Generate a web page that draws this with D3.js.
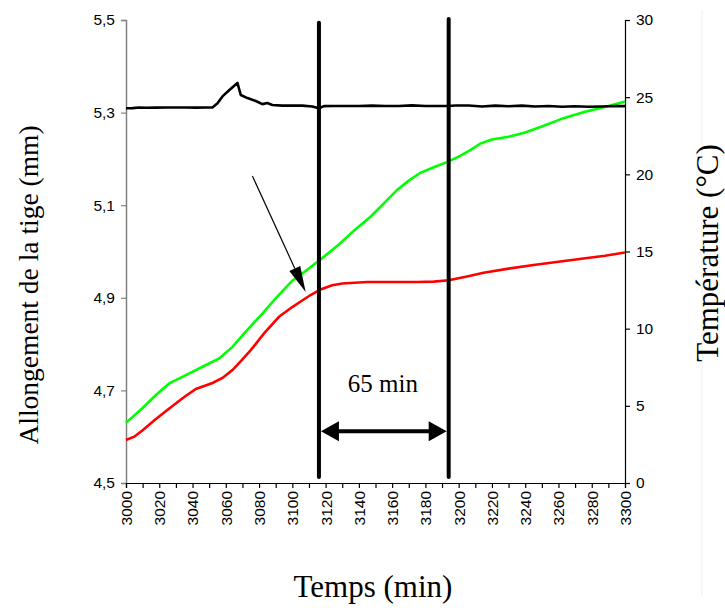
<!DOCTYPE html>
<html>
<head>
<meta charset="utf-8">
<script src="https://cdn.jsdelivr.net/npm/d3@7"></script>
<style>
  body { margin: 0; background: #fff; }
</style>
</head>
<body>
<svg id="chart"></svg>
<script>
// elongation, green curve (mm)
const greenTimes = [3000, 3005, 3010, 3018, 3026, 3036, 3046, 3056, 3064, 3072, 3082, 3090, 3100, 3108, 3117, 3128, 3137, 3147, 3155, 3163, 3170, 3177, 3185, 3193, 3200, 3207, 3213, 3220, 3230, 3240, 3250, 3263, 3276, 3289, 3300];
const greenValues = [4.630, 4.646, 4.662, 4.690, 4.715, 4.733, 4.751, 4.769, 4.794, 4.827, 4.866, 4.899, 4.937, 4.958, 4.983, 5.015, 5.045, 5.075, 5.104, 5.133, 5.153, 5.170, 5.182, 5.193, 5.205, 5.219, 5.233, 5.242, 5.248, 5.257, 5.270, 5.288, 5.302, 5.313, 5.324];

// elongation, red curve (mm)
const redTimes = [3000, 3005, 3010, 3018, 3026, 3034, 3042, 3052, 3058, 3064, 3070, 3075, 3083, 3092, 3100, 3105, 3111, 3117, 3124, 3130, 3135, 3145, 3160, 3175, 3185, 3194, 3205, 3215, 3230, 3245, 3260, 3275, 3288, 3300];
const redValues = [4.593, 4.600, 4.614, 4.638, 4.661, 4.683, 4.703, 4.716, 4.727, 4.744, 4.767, 4.787, 4.823, 4.859, 4.880, 4.892, 4.906, 4.918, 4.927, 4.931, 4.932, 4.934, 4.934, 4.934, 4.935, 4.938, 4.946, 4.954, 4.963, 4.971, 4.978, 4.985, 4.991, 4.998];

// temperature, black curve (°C)
const tempTimes = [3000, 3004, 3008, 3012, 3018, 3024, 3030, 3036, 3042, 3048, 3052, 3055, 3058, 3062, 3067, 3069, 3073, 3078, 3082, 3085, 3088, 3094, 3100, 3106, 3112, 3116, 3119, 3124, 3132, 3140, 3148, 3156, 3164, 3172, 3180, 3188, 3194, 3198, 3206, 3214, 3222, 3230, 3238, 3246, 3254, 3262, 3270, 3278, 3286, 3294, 3300];
const tempValues = [24.28, 24.29, 24.33, 24.31, 24.32, 24.33, 24.33, 24.33, 24.32, 24.33, 24.33, 24.60, 25.05, 25.45, 25.92, 25.14, 24.94, 24.75, 24.55, 24.62, 24.49, 24.45, 24.46, 24.45, 24.40, 24.28, 24.42, 24.43, 24.43, 24.43, 24.45, 24.43, 24.43, 24.47, 24.43, 24.43, 24.43, 24.46, 24.46, 24.40, 24.45, 24.41, 24.45, 24.40, 24.43, 24.38, 24.41, 24.38, 24.40, 24.43, 24.42];

// axis ticks
const leftTicks = [4.5, 4.7, 4.9, 5.1, 5.3, 5.5];
const rightTicks = [0, 5, 10, 15, 20, 25, 30];
const timeTicks = d3.range(3000, 3301, 10);

// annotations: the two vertical marks, the 65 min span, the thin arrow
const markTimes = [3116, 3194];
const markTops = [5.494, 5.502];
const markBottom = 4.513;
const spanLabel = "65 min";
const spanLevel = 4.612;
const pointerFrom = [3076, 5.163];
const pointerTo = [3108, 4.9125];

const width = 725, height = 608;
const svg = d3.select("#chart").attr("width", width).attr("height", height);

const x = d3.scaleLinear().domain([3000, 3300]).range([126, 625]);
const yLeft = d3.scaleLinear().domain([4.5, 5.5]).range([483, 20]);
const yRight = d3.scaleLinear().domain([0, 30]).range([483, 20]);

const sans = "Liberation Sans, Arial, sans-serif";
const serif = "Liberation Serif, Times New Roman, serif";
const comma = v => d3.format(".1f")(v).replace(".", ",");

// faint border line on the right
svg.append("line")
    .attr("x1", 702).attr("x2", 702).attr("y1", 10).attr("y2", 596)
    .attr("stroke", "#f0f0f0").attr("stroke-width", 1);

// left axis
const gLeft = svg.append("g")
    .attr("transform", `translate(${x(3000)},0)`)
    .call(d3.axisLeft(yLeft).tickValues(leftTicks).tickSize(5).tickPadding(6).tickFormat(comma));
gLeft.select(".domain").attr("stroke", "#808080").attr("stroke-width", 1.5);
gLeft.selectAll(".tick line").attr("stroke", "#808080").attr("stroke-width", 1.2);
gLeft.selectAll("text").attr("font-family", sans).attr("font-size", 15.5).attr("fill", "#000");

// right axis
const gRight = svg.append("g")
    .attr("transform", `translate(${x(3300)},0)`)
    .call(d3.axisRight(yRight).tickValues(rightTicks).tickSize(5).tickPadding(6));
gRight.select(".domain").attr("stroke", "#000").attr("stroke-width", 1.2);
gRight.selectAll(".tick line").attr("stroke-width", 1.2);
gRight.selectAll("text").attr("font-family", sans).attr("font-size", 15.5).attr("fill", "#000");

// bottom axis
const gBottom = svg.append("g")
    .attr("transform", `translate(0,${yLeft(4.5)})`)
    .call(d3.axisBottom(x).tickValues(timeTicks).tickSize(5)
        .tickFormat(d => d % 20 === 0 ? d : ""));
gBottom.select(".domain").attr("stroke", "#000").attr("stroke-width", 1.2);
gBottom.selectAll(".tick line").attr("stroke-width", 1.2);
gBottom.selectAll("text")
    .attr("font-family", sans).attr("font-size", 15.5).attr("fill", "#000")
    .attr("transform", "rotate(-90)")
    .attr("x", -8).attr("y", 0).attr("dy", "0.35em")
    .attr("text-anchor", "end");

// curves
const lenLine = d3.line().x(d => x(d[0])).y(d => yLeft(d[1]));
const tempLine = d3.line().x(d => x(d[0])).y(d => yRight(d[1]));

svg.append("path")
    .datum(d3.zip(greenTimes, greenValues))
    .attr("d", lenLine)
    .attr("fill", "none").attr("stroke", "#00ff00").attr("stroke-width", 2.6);

svg.append("path")
    .datum(d3.zip(redTimes, redValues))
    .attr("d", lenLine)
    .attr("fill", "none").attr("stroke", "#ff0000").attr("stroke-width", 2.6);

svg.append("path")
    .datum(d3.zip(tempTimes, tempValues))
    .attr("d", tempLine)
    .attr("fill", "none").attr("stroke", "#000").attr("stroke-width", 2.6)
    .attr("stroke-linejoin", "round");

// vertical marks
svg.selectAll(".mark")
    .data(markTimes)
    .enter()
    .append("line")
    .attr("class", "mark")
    .attr("x1", d => x(d)).attr("x2", d => x(d))
    .attr("y1", (d, i) => yLeft(markTops[i]))
    .attr("y2", yLeft(markBottom))
    .attr("stroke", "#000").attr("stroke-width", 4)
    .attr("stroke-linecap", "round");

// double arrow between the marks
const ay = yLeft(spanLevel);
const ax1 = x(markTimes[0]) + 2, ax2 = x(markTimes[1]) - 2;
const headLen = 18, headHalf = 10;
svg.append("line")
    .attr("x1", ax1 + headLen - 2).attr("x2", ax2 - headLen + 2)
    .attr("y1", ay).attr("y2", ay)
    .attr("stroke", "#000").attr("stroke-width", 4);
svg.append("path")
    .attr("d", `M${ax1},${ay}L${ax1 + headLen},${ay - headHalf}L${ax1 + headLen},${ay + headHalf}Z`)
    .attr("fill", "#000");
svg.append("path")
    .attr("d", `M${ax2},${ay}L${ax2 - headLen},${ay - headHalf}L${ax2 - headLen},${ay + headHalf}Z`)
    .attr("fill", "#000");

svg.append("text")
    .attr("x", (x(markTimes[0]) + x(markTimes[1])) / 2 - 1)
    .attr("y", yLeft(4.697))
    .attr("text-anchor", "middle")
    .attr("font-family", serif).attr("font-size", 25)
    .text(spanLabel);

// thin pointer arrow
const px1 = x(pointerFrom[0]), py1 = yLeft(pointerFrom[1]);
const px2 = x(pointerTo[0]), py2 = yLeft(pointerTo[1]);
const ang = Math.atan2(py2 - py1, px2 - px1);
const pl = 26, pw = 6;
const bx = px2 - pl * Math.cos(ang), by = py2 - pl * Math.sin(ang);
svg.append("line")
    .attr("x1", px1).attr("y1", py1).attr("x2", bx).attr("y2", by)
    .attr("stroke", "#000").attr("stroke-width", 1.2);
svg.append("path")
    .attr("d", `M${px2},${py2}L${bx + pw * Math.sin(ang)},${by - pw * Math.cos(ang)}L${bx - pw * Math.sin(ang)},${by + pw * Math.cos(ang)}Z`)
    .attr("fill", "#000");

// axis titles
svg.append("text")
    .attr("transform", "translate(38,285) rotate(-90)")
    .attr("text-anchor", "middle")
    .attr("font-family", serif).attr("font-size", 27.5)
    .text("Allongement de la tige (mm)");

svg.append("text")
    .attr("transform", "translate(718,253) rotate(-90)")
    .attr("text-anchor", "middle")
    .attr("font-family", serif).attr("font-size", 31)
    .text("Température (°C)");

svg.append("text")
    .attr("x", 373).attr("y", 597)
    .attr("text-anchor", "middle")
    .attr("font-family", serif).attr("font-size", 31)
    .text("Temps (min)");
</script>
</body>
</html>
